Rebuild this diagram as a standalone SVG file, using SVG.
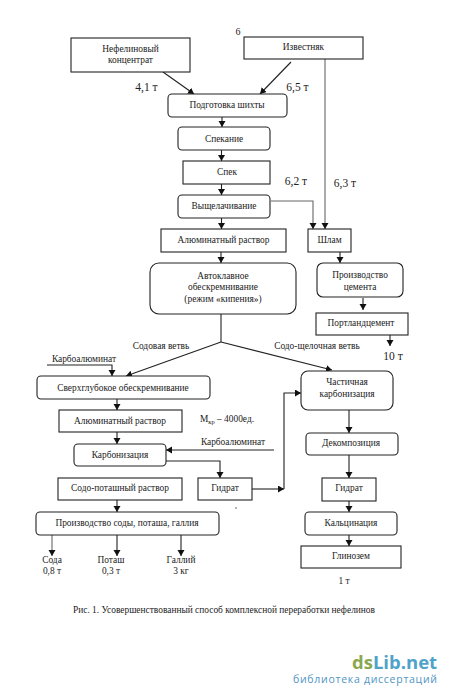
<svg xmlns="http://www.w3.org/2000/svg" width="450" height="700" viewBox="0 0 450 700">
<style>
text{font-family:"Liberation Serif","Times New Roman",serif;font-size:9.400px;fill:#222;text-anchor:middle}
.b{fill:#fff;stroke:#222;stroke-width:1.100}
.l{font-size:11.500px}
.c path{fill:none;stroke:#222;stroke-width:1.100;marker-end:url(#a)}
.c path.n{marker-end:none}
.c path.g{stroke:#666}
.w{font-family:"Open Sans","Liberation Sans",sans-serif;text-anchor:start}
</style>
<defs><marker id="a" markerUnits="userSpaceOnUse" markerWidth="8" markerHeight="8" refX="6" refY="3.500" orient="auto"><path d="M0 0L6 3.500L0 7Z" fill="#111"/></marker></defs>
<rect width="450" height="700" fill="#fff"/>
<g id="connectors" class="c">
<path d="M163 72L194 94"/>
<path d="M291 62L260 94"/>
<path class="g" d="M325 59V229"/>
<path class="g" d="M271 201H313V229"/>
<path d="M222 117V127"/>
<path d="M221.500 150V161"/>
<path d="M221.500 184V195"/>
<path d="M221.500 218V229"/>
<path d="M221 252V263"/>
<path d="M340 252V263"/>
<path d="M363 298V310"/>
<path d="M390 335V346"/>
<path class="n" d="M221 314V342"/>
<path d="M221 342L126 376"/>
<path d="M221 342L332 370"/>
<path d="M47 365H112V376"/>
<path d="M117 399V410"/>
<path d="M117 432V444"/>
<path d="M349 410V433"/>
<path d="M274 450H166"/>
<path d="M166 461H220V478"/>
<path d="M117 500V512"/>
<path d="M252 489H284"/>
<path d="M284 489V393H301"/>
<path d="M349 455V478"/>
<path d="M349 501V512"/>
<path d="M349 535V546"/>
<path class="g" d="M52 535V556"/>
<path d="M117 535V556"/>
<path d="M181 535V556"/>
</g>
<g id="n1"><rect class="b" x="71" y="38" width="119" height="34"/><text x="130.500" y="52">Нефелиновый</text><text x="130.500" y="63">концентрат</text></g>
<g id="n2"><rect class="b" x="244" y="37" width="119" height="22"/><text x="303.500" y="50">Известняк</text></g>
<g id="n3"><rect class="b" x="168" y="94" width="119" height="23" rx="4"/><text x="227" y="108">Подготовка шихты</text></g>
<g id="n4"><rect class="b" x="178" y="127" width="92" height="23" rx="4"/><text x="224" y="142">Спекание</text></g>
<g id="n5"><rect class="b" x="183" y="161" width="87" height="23"/><text x="227" y="175">Спек</text></g>
<g id="n6"><rect class="b" x="178" y="195" width="92" height="23" rx="4"/><text x="224" y="209">Выщелачивание</text></g>
<g id="n7"><rect class="b" x="161" y="229" width="125" height="23"/><text x="223.500" y="243">Алюминатный раствор</text></g>
<g id="n8"><rect class="b" x="308" y="229" width="43" height="23"/><text x="329.500" y="243">Шлам</text></g>
<g id="n9"><rect class="b" x="150" y="263" width="146" height="51" rx="9"/><text x="223" y="279">Автоклавное</text><text x="223" y="290">обескремнивание</text><text x="223" y="302">(режим «кипения»)</text></g>
<g id="n10"><rect class="b" x="317" y="263" width="86" height="34" rx="6"/><text x="360" y="278">Производство</text><text x="360" y="290">цемента</text></g>
<g id="n11"><rect class="b" x="316" y="313" width="92" height="22"/><text x="361" y="326">Портландцемент</text></g>
<g id="n12"><rect class="b" x="37" y="376" width="173" height="23" rx="4"/><text x="123" y="391">Сверхглубокое обескремнивание</text></g>
<g id="n13"><rect class="b" x="59" y="410" width="123" height="22"/><text x="120" y="424">Алюминатный раствор</text></g>
<g id="n14"><rect class="b" x="301" y="371" width="92" height="39" rx="7"/><text x="347" y="385">Частичная</text><text x="347" y="397">карбонизация</text></g>
<g id="n15"><rect class="b" x="306" y="433" width="92" height="22" rx="4"/><text x="351" y="446">Декомпозиция</text></g>
<g id="n16"><rect class="b" x="74" y="444" width="92" height="22" rx="4"/><text x="120" y="458">Карбонизация</text></g>
<g id="n17"><rect class="b" x="58" y="478" width="124" height="22"/><text x="120" y="491">Содо-поташный раствор</text></g>
<g id="n18"><rect class="b" x="198" y="478" width="54" height="22"/><text x="225" y="491">Гидрат</text></g>
<g id="n19"><rect class="b" x="36" y="512" width="183" height="23" rx="4"/><text x="127" y="526">Производство соды, поташа, галлия</text></g>
<g id="n20"><rect class="b" x="322" y="478" width="54" height="23"/><text x="349" y="491">Гидрат</text></g>
<g id="n21"><rect class="b" x="305" y="512" width="92" height="23" rx="4"/><text x="351" y="526">Кальцинация</text></g>
<g id="n22"><rect class="b" x="301" y="546" width="100" height="22"/><text x="351" y="559">Глинозем</text></g>
<text x="238" y="35" style="font-size:10px">6</text>
<text class="l" x="146.500" y="91">4,1 т</text>
<text class="l" x="297.500" y="91">6,5 т</text>
<text class="l" x="296" y="185">6,2 т</text>
<text class="l" x="345" y="187">6,3 т</text>
<text class="l" x="393" y="360">10 т</text>
<text x="161" y="349">Содовая ветвь</text>
<text x="317" y="349">Содо-щелочная ветвь</text>
<text x="84" y="362">Карбоалюминат</text>
<text x="227" y="422">М<tspan style="font-size:6.500px" dy="2">кр</tspan><tspan dy="-2"> – 4000ед.</tspan></text>
<text x="233" y="445">Карбоалюминат</text>
<text x="52" y="563">Сода</text><text x="52" y="574">0,8 т</text>
<text x="111" y="563">Поташ</text><text x="111" y="574">0,3 т</text>
<text x="181" y="563">Галлий</text><text x="181" y="574">3 кг</text>
<text x="344" y="584">1 т</text>
<text x="224" y="613" style="font-size:9.500px" textLength="302" lengthAdjust="spacingAndGlyphs">Рис. 1. Усовершенствованный способ комплексной переработки нефелинов</text>
<circle cx="236" cy="508" r="0.700" fill="#333"/>
<text class="w" x="352" y="669" style="font-size:18.500px;font-weight:bold"><tspan style="fill:#8aa84f">ds</tspan><tspan style="fill:#4fa3c9">Lib.net</tspan></text>
<text class="w" x="293" y="683" style="font-size:10.500px;fill:#4f94c4" textLength="144">библиотека диссертаций</text>
</svg>
